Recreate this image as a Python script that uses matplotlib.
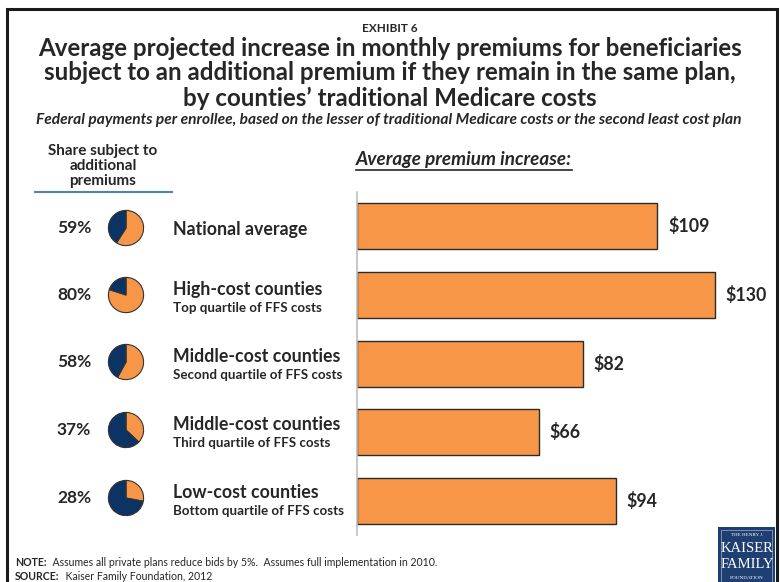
import matplotlib
matplotlib.use("Agg")
import matplotlib.pyplot as plt
from matplotlib.patches import Rectangle

# ---- data ----
categories = ["National average", "High-cost counties", "Middle-cost counties",
              "Middle-cost counties", "Low-cost counties"]
subtitles = ["", "Top quartile of FFS costs", "Second quartile of FFS costs",
             "Third quartile of FFS costs", "Bottom quartile of FFS costs"]
share_subject = [59, 80, 58, 37, 28]
premium_increase = [109, 130, 82, 66, 94]

ORANGE = "#F79646"
NAVY = "#0B3364"
TEXT = "#262626"
FONT = ["Lato", "DejaVu Sans"]
plt.rcParams["font.family"] = FONT

W, H = 780, 582
fig = plt.figure(figsize=(W / 100, H / 100), dpi=100)
fig.patch.set_facecolor("white")

def fx(px):
    return px / W

def fy(py):
    return 1 - py / H

# ---- bar chart ----
x0, px_per_dollar = 357, 2.752
top_px, bot_px = 192, 535
row0, row_step = 226, 68.75
xmax = 140
bax = fig.add_axes([fx(x0), fy(bot_px), (px_per_dollar * xmax) / W, (bot_px - top_px) / H])
y_top = (top_px - row0) / row_step
y_bot = (bot_px - row0) / row_step
rows = list(range(len(categories)))
bars = bax.barh(rows, premium_increase, height=46 / row_step, color=ORANGE,
                edgecolor="#2b2b2b", linewidth=1.0)
bax.set_xlim(0, xmax)
bax.set_ylim(y_bot, y_top)
for side in ["top", "right", "bottom"]:
    bax.spines[side].set_visible(False)
bax.spines["left"].set_color("#bfbfbf")
bax.spines["left"].set_linewidth(1.2)
bax.set_xticks([])
bax.set_yticks([])
bax.patch.set_alpha(0)
for r, v in zip(rows, premium_increase):
    bax.annotate(f"${v}", xy=(v, r), xytext=(8, 0), textcoords="offset points",
                 ha="left", va="center", fontsize=12.8, fontweight="bold", color=TEXT)

# ---- pies ----
pie_cx, pie_r = 126, 22
pie_cy = [228, 295, 362, 430, 498]
for cy, s in zip(pie_cy, share_subject):
    pax = fig.add_axes([fx(pie_cx - pie_r), fy(cy + pie_r), 2 * pie_r / W, 2 * pie_r / H])
    pax.pie([s, 100 - s], colors=[ORANGE, NAVY], startangle=90, counterclock=False,
            wedgeprops=dict(edgecolor="#333333", linewidth=0.8))
    pax.set_aspect("equal")

# ---- overlay for text ----
ov = fig.add_axes([0, 0, 1, 1], zorder=5)
ov.set_xlim(0, W)
ov.set_ylim(H, 0)
ov.axis("off")
ov.patch.set_alpha(0)

# frame
ov.plot([7, 7, 777, 777], [600, 9, 9, 600], color="#1a1a1a", lw=2.2, solid_joinstyle="miter")

ov.text(390, 28, "EXHIBIT 6", ha="center", va="center", fontsize=8.5,
        fontweight="bold", color=TEXT)
title_lines = ["Average projected increase in monthly premiums for beneficiaries",
               "subject to an additional premium if they remain in the same plan,",
               "by counties\u2019 traditional Medicare costs"]
for i, line in enumerate(title_lines):
    ov.text(390, 48 + 25 * i, line, ha="center", va="center", fontsize=17.4,
            fontweight="bold", color=TEXT)
ov.text(389, 120, "Federal payments per enrollee, based on the lesser of traditional "
        "Medicare costs or the second least cost plan", ha="center", va="center",
        fontsize=11.2, fontweight="bold", fontstyle="italic", color=TEXT)

# left header
ov.text(103, 166, "Share subject to\nadditional\npremiums", ha="center", va="center",
        fontsize=11, fontweight="bold", color=TEXT, linespacing=1.08)
ov.plot([35, 172], [192, 192], color="#4F81BD", lw=1.5)

# right header with underline
hdr = ov.text(356, 160, "Average premium increase:", ha="left", va="center",
              fontsize=13.6, fontweight="bold", fontstyle="italic", color=TEXT)

# row labels
for cy, cat, sub, s in zip(pie_cy, categories, subtitles, share_subject):
    ov.text(74, cy, f"{s}%", ha="center", va="center", fontsize=12.5,
            fontweight="bold", color=TEXT)
    if sub:
        ov.text(173, cy - 6, cat, ha="left", va="center", fontsize=12.8,
                fontweight="bold", color=TEXT)
        ov.text(173, cy + 13, sub, ha="left", va="center", fontsize=9.6,
                fontweight="bold", color=TEXT)
    else:
        ov.text(173, cy + 1, cat, ha="left", va="center", fontsize=12.8,
                fontweight="bold", color=TEXT)

# notes
n1 = ov.text(15, 562, "NOTE:", ha="left", va="center", fontsize=7.6, fontweight="bold", color=TEXT)
ov.annotate("  Assumes all private plans reduce bids by 5%.  Assumes full implementation in 2010.",
            xy=(1, 0.5), xycoords=n1, ha="left", va="center", fontsize=7.6, color=TEXT)
n2 = ov.text(15, 576, "SOURCE:", ha="left", va="center", fontsize=7.6, fontweight="bold", color=TEXT)
ov.annotate("  Kaiser Family Foundation, 2012", xy=(1, 0.5), xycoords=n2,
            ha="left", va="center", fontsize=7.6, color=TEXT)

# logo
ov.add_patch(Rectangle((718, 527), 57, 60, facecolor="#1F3F73", edgecolor="none"))
ov.add_patch(Rectangle((721, 530), 51, 60, facecolor="none", edgecolor="#9fb3d1", lw=0.5))
serif = ["Liberation Serif", "DejaVu Serif"]
ov.text(747, 535, "THE HENRY J.", ha="center", va="center", fontsize=3.6, color="white", family=serif)
ov.text(747, 548, "KAISER", ha="center", va="center", fontsize=10.5, color="white", family=serif)
ov.text(747, 565, "FAMILY", ha="center", va="center", fontsize=10.5, color="white", family=serif)
ov.text(747, 578, "FOUNDATION", ha="center", va="center", fontsize=3.8, color="white", family=serif)

fig.canvas.draw()
bb = hdr.get_window_extent()
inv = ov.transData.inverted()
(xa, ya), (xb, yb) = inv.transform([(bb.x0, bb.y0), (bb.x1, bb.y1)])
ov.plot([xa, xb], [max(ya, yb) + 1, max(ya, yb) + 1], color=TEXT, lw=1.2)

fig.savefig("out.png", dpi=100)
